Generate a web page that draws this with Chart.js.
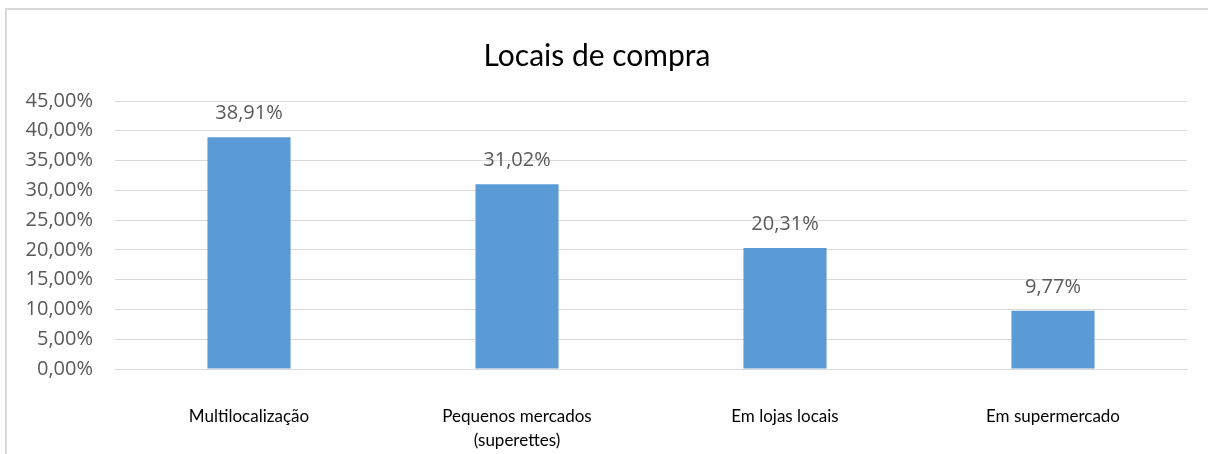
<!DOCTYPE html>
<html>
<head>
<meta charset="utf-8">
<script src="https://cdn.jsdelivr.net/npm/chart.js@4"></script>
<style>
  html, body { margin: 0; padding: 0; background: #fff; overflow: hidden; }
  #wrap {
    position: absolute; left: 5px; top: 8px;
    width: 1201px; height: 446px;
    border-left: 2px solid #d9d9d9; border-top: 2px solid #d9d9d9;
  }
</style>
</head>
<body>
<div id="wrap"><canvas id="chart"></canvas></div>
<script>
// dados
const categorias = ['Multilocalização', ['Pequenos mercados', '(superettes)'], 'Em lojas locais', 'Em supermercado'];
const valores = [38.91, 31.02, 20.31, 9.77];
const tituloTexto = 'Locais de compra';
const eixoMin = 0, eixoMax = 45, eixoPasso = 5;

const fonte = 'Lato, "DejaVu Sans", sans-serif';
const fonteNum = '"Open Sans", "DejaVu Sans", sans-serif';
const fmt = v => v.toFixed(2).replace('.', ',') + '%';

// rótulos acima das barras
const rotulosBarras = {
  id: 'rotulosBarras',
  afterDatasetsDraw(chart) {
    const c = chart.ctx;
    const meta = chart.getDatasetMeta(0);
    c.save();
    c.font = '20px ' + fonteNum;
    c.fillStyle = '#595959';
    c.textAlign = 'center';
    c.textBaseline = 'alphabetic';
    meta.data.forEach((bar, i) => {
      c.fillText(fmt(valores[i]), bar.x, bar.y - 18);
    });
    c.restore();
  }
};

new Chart(document.getElementById('chart'), {
  type: 'bar',
  data: {
    labels: categorias,
    datasets: [{
      data: valores,
      backgroundColor: '#5b9bd5',
      categoryPercentage: 1,
      barPercentage: 0.31
    }]
  },
  options: {
    responsive: true,
    maintainAspectRatio: false,
    animation: false,
    layout: { padding: { right: 21, bottom: 0, top: 0 } },
    plugins: {
      legend: { display: false },
      tooltip: { enabled: false },
      title: {
        display: true,
        text: tituloTexto,
        color: '#000',
        font: { family: fonte, size: 30, weight: 'normal' },
        padding: { top: 28, bottom: 27 }
      }
    },
    scales: {
      x: {
        afterFit(s) { s.height = 87; },
        grid: { display: false, drawTicks: false },
        border: { color: '#d9d9d9', width: 1 },
        ticks: {
          color: '#000',
          font: { family: fonte, size: 17, lineHeight: 1.45 },
          padding: 35,
          maxRotation: 0,
          autoSkip: false
        }
      },
      y: {
        min: eixoMin,
        max: eixoMax,
        afterFit(s) { s.width = 108; },
        grid: { color: '#d9d9d9', drawTicks: false },
        border: { display: false },
        ticks: {
          stepSize: eixoPasso,
          color: '#595959',
          font: { family: fonteNum, size: 20 },
          padding: 22,
          callback: v => fmt(v)
        }
      }
    }
  },
  plugins: [rotulosBarras]
});
</script>
</body>
</html>
